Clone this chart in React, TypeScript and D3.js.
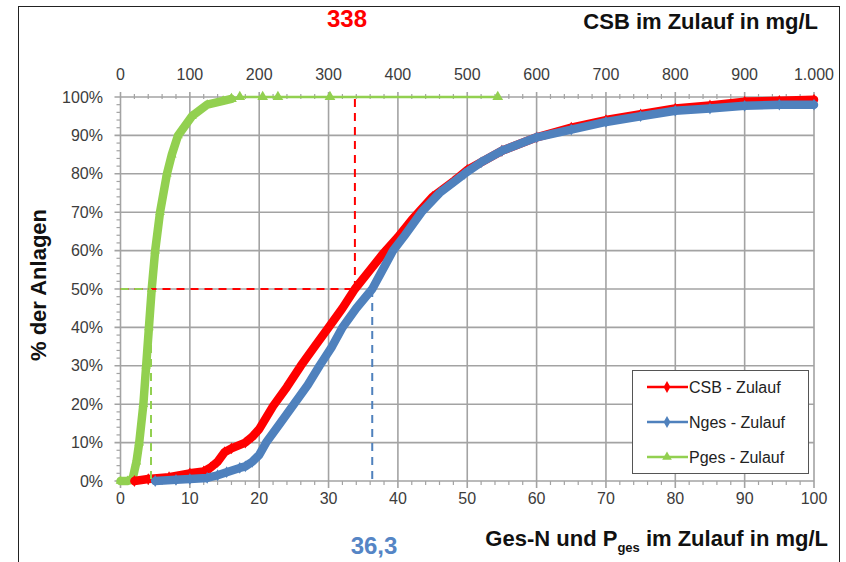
import React from "react";
import * as d3 from "d3";

// CSB in mg/L (upper axis), cumulative share of plants in %
const csbConc = [20, 40, 70, 100, 120, 130, 140, 150, 160, 180, 190, 200, 220, 240, 260, 280, 300, 320, 338, 360, 380, 400, 420, 450, 480, 500, 550, 600, 650, 700, 750, 800, 850, 900, 950, 1000];
const csbPct = [0, 0.5, 1, 2, 2.5, 3.5, 5, 7.5, 8.5, 10, 11.5, 13.5, 19.5, 24.5, 30, 35, 40, 45, 50, 55, 59.5, 63.5, 68, 74, 78, 81, 86, 89.5, 92, 94, 95.5, 97, 97.8, 98.8, 99, 99.3];

// Nges in mg/L (lower axis)
const ngesConc = [5, 8, 10, 12.5, 14, 15.3, 17.2, 18, 19, 20, 21, 23, 25, 27, 28.7, 30.5, 32, 34, 36.3, 37.5, 39.3, 41, 43.4, 46, 49.6, 52, 55, 60, 65, 70, 75, 80, 85, 90, 95, 100];
const ngesPct = [0, 0.3, 0.5, 0.8, 1.5, 2.3, 3.4, 3.8, 5, 6.8, 10, 15, 20, 25, 30, 35, 40, 45, 50, 54, 60, 64, 70, 75, 80, 83, 86, 89.5, 91.5, 93.5, 95, 96.4, 97, 97.7, 98, 98];

// Pges in mg/L (lower axis)
const pgesConc = [0, 1, 1.5, 1.8, 2.3, 2.7, 3.3, 3.7, 4.1, 4.5, 5.0, 5.7, 6.7, 7.4, 8.3, 10.3, 12.5, 14.8, 16, 17.2, 20.5, 22.7, 30.2, 54.4];
const pgesPct = [0, 0, 0.3, 1, 5, 10, 20, 30, 40, 50, 60, 70, 80, 85, 90, 95, 98, 99, 99.5, 100, 100, 100, 100, 100];

const pctTicks = [0, 10, 20, 30, 40, 50, 60, 70, 80, 90, 100];
const lowTicks = [0, 10, 20, 30, 40, 50, 60, 70, 80, 90, 100];
const topTicks = [0, 100, 200, 300, 400, 500, 600, 700, 800, 900, 1000];

const csbMedian = 338;
const ngesMedian = 36.3;
const pgesMedian = 4.4;

const legendItems = [
  { label: "CSB - Zulauf", color: "#ff0000", shape: d3.symbolDiamond },
  { label: "Nges - Zulauf", color: "#4f81bd", shape: d3.symbolDiamond },
  { label: "Pges - Zulauf", color: "#92d050", shape: d3.symbolTriangle },
];

const RED = "#ff0000";
const BLUE = "#4f81bd";
const GREEN = "#92d050";
const GRID = "#a3a3a3";
const TXT = "#3c3c3c";
const FONT = "'Liberation Sans', Arial, sans-serif";

const de = d3.formatLocale({ decimal: ",", thousands: ".", grouping: [3], currency: ["", "€"] });

export default function App() {
  const ref = React.useRef<SVGSVGElement>(null);

  React.useEffect(() => {
    const svg = d3.select(ref.current);
    svg.selectAll("*").remove();

    const x = d3.scaleLinear().domain([0, 100]).range([120.5, 814]);
    const xTop = d3.scaleLinear().domain([0, 1000]).range([120.5, 814]);
    const y = d3.scaleLinear().domain([0, 100]).range([481, 97]);

    // outer frame
    svg.append("rect").attr("x", 18.5).attr("y", 6.5).attr("width", 821).attr("height", 600)
      .attr("fill", "white").attr("stroke", "#222").attr("stroke-width", 1);

    const g = svg.append("g");

    // grid
    g.selectAll(".vg").data(lowTicks).enter().append("line")
      .attr("x1", (d) => x(d)).attr("x2", (d) => x(d)).attr("y1", y(100) - 5).attr("y2", y(0) + 7)
      .attr("stroke", GRID).attr("stroke-width", 1.6);
    g.selectAll(".hg").data(pctTicks).enter().append("line")
      .attr("x1", x(0) - 6).attr("x2", x(100)).attr("y1", (d) => y(d)).attr("y2", (d) => y(d))
      .attr("stroke", GRID).attr("stroke-width", 1.6);

    // minor ticks
    const minorX = d3.range(0, 101, 2).filter((d) => d % 10 !== 0);
    g.selectAll(".mt").data(minorX).enter().append("line")
      .attr("x1", (d) => x(d)).attr("x2", (d) => x(d)).attr("y1", y(100) - 3).attr("y2", y(100) + 2)
      .attr("stroke", GRID).attr("stroke-width", 1.2);
    g.selectAll(".mb").data(minorX).enter().append("line")
      .attr("x1", (d) => x(d)).attr("x2", (d) => x(d)).attr("y1", y(0)).attr("y2", y(0) + 4)
      .attr("stroke", GRID).attr("stroke-width", 1.2);
    const minorY = d3.range(0, 101, 2).filter((d) => d % 10 !== 0);
    g.selectAll(".ml").data(minorY).enter().append("line")
      .attr("x1", x(0) - 4).attr("x2", x(0)).attr("y1", (d) => y(d)).attr("y2", (d) => y(d))
      .attr("stroke", GRID).attr("stroke-width", 1.2);

    // tick labels
    g.selectAll(".yl").data(pctTicks).enter().append("text")
      .attr("x", 103).attr("y", (d) => y(d)).attr("dy", "0.35em").attr("text-anchor", "end")
      .attr("font-size", 16).attr("fill", TXT).attr("font-family", FONT).text((d) => d + "%");
    g.selectAll(".xl").data(lowTicks).enter().append("text")
      .attr("x", (d) => x(d)).attr("y", 504).attr("text-anchor", "middle")
      .attr("font-size", 16).attr("fill", TXT).attr("font-family", FONT).text((d) => String(d));
    g.selectAll(".tl").data(topTicks).enter().append("text")
      .attr("x", (d) => xTop(d)).attr("y", 80).attr("text-anchor", "middle")
      .attr("font-size", 16).attr("fill", TXT).attr("font-family", FONT).text((d) => de.format(",")(d));

    // series
    const line = d3.line<[number, number]>().x((d) => d[0]).y((d) => d[1]);
    const drawSeries = (pts: [number, number][], color: string, width: number, shape: d3.SymbolType, size: number) => {
      g.append("path").attr("d", line(pts)).attr("fill", "none").attr("stroke", color)
        .attr("stroke-width", width).attr("stroke-linejoin", "round").attr("stroke-linecap", "round");
      g.selectAll(null).data(pts).enter().append("path")
        .attr("d", d3.symbol().type(shape).size(size)())
        .attr("transform", (d) => `translate(${d[0]},${d[1]})`).attr("fill", color);
    };

    const csbPts = csbConc.map((c, i) => [xTop(c), y(csbPct[i])] as [number, number]);
    const ngesPts = ngesConc.map((c, i) => [x(c), y(ngesPct[i])] as [number, number]);
    const pgesPts = pgesConc.map((c, i) => [x(c), y(pgesPct[i])] as [number, number]);
    const split = pgesConc.findIndex((c) => c >= 16);

    drawSeries(pgesPts.slice(split), GREEN, 2.5, d3.symbolTriangle, 50);
    drawSeries(pgesPts.slice(0, split + 1), GREEN, 8.5, d3.symbolTriangle, 40);
    drawSeries(csbPts, RED, 8.5, d3.symbolDiamond, 40);
    drawSeries(ngesPts, BLUE, 8.5, d3.symbolDiamond, 40);

    // median guides
    const dash = (x1: number, y1: number, x2: number, y2: number, color: string) =>
      g.append("line").attr("x1", x1).attr("y1", y1).attr("x2", x2).attr("y2", y2)
        .attr("stroke", color).attr("stroke-width", 2).attr("stroke-dasharray", "8,6");
    dash(x(0), y(50), xTop(csbMedian), y(50), RED);
    dash(xTop(csbMedian), y(50), xTop(csbMedian), y(100), RED);
    dash(x(ngesMedian), y(50), x(ngesMedian), y(0), BLUE);
    dash(x(0), y(50), x(pgesMedian), y(50), GREEN);
    dash(x(pgesMedian), y(50), x(pgesMedian), y(0), GREEN);

    // legend
    const lg = g.append("g").attr("transform", "translate(632,370)");
    lg.append("rect").attr("x", 0.5).attr("y", 0.5).attr("width", 176).attr("height", 103)
      .attr("fill", "white").attr("stroke", "#555").attr("stroke-width", 1);
    legendItems.forEach((it, i) => {
      const yy = 17 + i * 35;
      lg.append("line").attr("x1", 15).attr("x2", 56).attr("y1", yy).attr("y2", yy)
        .attr("stroke", it.color).attr("stroke-width", 2.5);
      lg.append("path").attr("d", d3.symbol().type(it.shape).size(40)())
        .attr("transform", `translate(35,${yy})`).attr("fill", it.color);
      lg.append("text").attr("x", 57).attr("y", yy).attr("dy", "0.35em")
        .attr("font-size", 16).attr("fill", "#222").attr("font-family", FONT).text(it.label);
    });

    // titles
    g.append("text").attr("x", 818).attr("y", 29).attr("text-anchor", "end")
      .attr("font-size", 22).attr("font-weight", "bold").attr("fill", "#111").attr("font-family", FONT)
      .text("CSB im Zulauf in mg/L");
    const bt = g.append("text").attr("x", 828).attr("y", 546).attr("text-anchor", "end")
      .attr("font-size", 22).attr("font-weight", "bold").attr("fill", "#111").attr("font-family", FONT);
    bt.append("tspan").text("Ges-N und P");
    bt.append("tspan").attr("font-size", 13).attr("dy", 6).text("ges");
    bt.append("tspan").attr("dy", -6).text(" im Zulauf in mg/L");
    g.append("text").attr("transform", "translate(46,285) rotate(-90)").attr("text-anchor", "middle")
      .attr("font-size", 22).attr("font-weight", "bold").attr("fill", "#111").attr("font-family", FONT)
      .text("% der Anlagen");

    g.append("text").attr("x", 347).attr("y", 27).attr("text-anchor", "middle")
      .attr("font-size", 24).attr("font-weight", "bold").attr("fill", RED).attr("font-family", FONT)
      .text(de.format(",")(csbMedian));
    g.append("text").attr("x", 374).attr("y", 554).attr("text-anchor", "middle")
      .attr("font-size", 24).attr("font-weight", "bold").attr("fill", "#5585c5").attr("font-family", FONT)
      .text(de.format(",.1f")(ngesMedian));
  }, []);

  return (
    <svg ref={ref} width={846} height={562} style={{ position: "absolute", left: 0, top: 0 }} />
  );
}
